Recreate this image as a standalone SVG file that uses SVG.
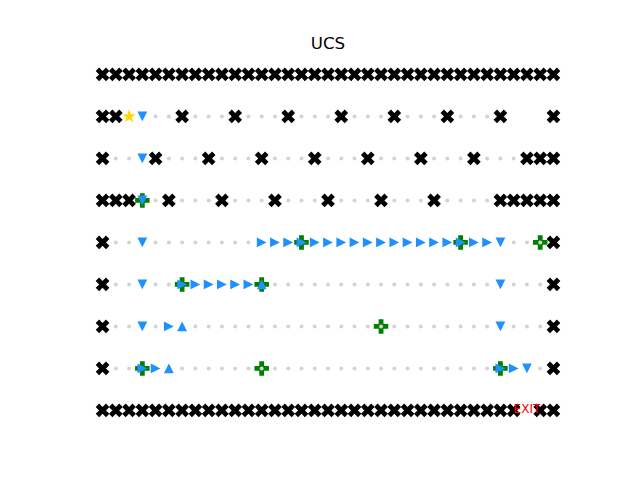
<svg xmlns="http://www.w3.org/2000/svg" xmlns:xlink="http://www.w3.org/1999/xlink" width="640" height="480" viewBox="0 0 640 480">
<style>
.title{font-family:"DejaVu Sans",sans-serif;font-size:16.67px;fill:#000;text-anchor:middle}
.exit{font-family:"DejaVu Sans",sans-serif;font-size:12px;fill:#ff0000;text-anchor:middle}
</style>
<defs>
<path id="wx" d="M-3.42,-6.85L0,-3.42L3.42,-6.85L6.85,-3.42L3.42,0L6.85,3.42L3.42,6.85L0,3.42L-3.42,6.85L-6.85,3.42L-3.42,0L-6.85,-3.42Z" fill="#000000"/>
<circle id="dt" r="2" fill="#d3d3d3"/>
<path id="pl" d="M-2.42,-7.25H2.42V-2.42H7.25V2.42H2.42V7.25H-2.42V2.42H-7.25V-2.42H-2.42Z" fill="#008000"/>
<path id="td" d="M-4.9,-4.9H4.9L0,4.9Z" fill="#1e90ff"/>
<path id="tr" d="M-4.9,-4.9L4.9,0L-4.9,4.9Z" fill="#1e90ff"/>
<path id="tu" d="M0,-4.9L4.9,4.9H-4.9Z" fill="#1e90ff"/>
<path id="st" d="M0,-7.2L1.62,-2.23L6.85,-2.23L2.62,0.85L4.23,5.83L0,2.75L-4.23,5.83L-2.62,0.85L-6.85,-2.23L-1.62,-2.23Z" fill="#ffd700"/>
<g id="dotrow">
<use href="#dt" x="115.81"/><use href="#dt" x="129.07"/><use href="#dt" x="142.34"/><use href="#dt" x="155.60"/><use href="#dt" x="168.86"/><use href="#dt" x="182.12"/><use href="#dt" x="195.38"/><use href="#dt" x="208.65"/><use href="#dt" x="221.91"/><use href="#dt" x="235.17"/><use href="#dt" x="248.43"/><use href="#dt" x="261.69"/><use href="#dt" x="274.96"/><use href="#dt" x="288.22"/><use href="#dt" x="301.48"/><use href="#dt" x="314.74"/><use href="#dt" x="328.00"/><use href="#dt" x="341.27"/><use href="#dt" x="354.53"/><use href="#dt" x="367.79"/><use href="#dt" x="381.05"/><use href="#dt" x="394.31"/><use href="#dt" x="407.58"/><use href="#dt" x="420.84"/><use href="#dt" x="434.10"/><use href="#dt" x="447.36"/><use href="#dt" x="460.62"/><use href="#dt" x="473.89"/><use href="#dt" x="487.15"/><use href="#dt" x="500.41"/><use href="#dt" x="513.67"/><use href="#dt" x="526.93"/><use href="#dt" x="540.20"/>
</g>
</defs>
<rect width="640" height="480" fill="#ffffff"/>
<text class="title" x="328" y="49">UCS</text>
<g id="walls">
<g transform="translate(0,74.4)">
<use href="#wx" x="102.55"/><use href="#wx" x="115.81"/><use href="#wx" x="129.07"/><use href="#wx" x="142.34"/><use href="#wx" x="155.60"/><use href="#wx" x="168.86"/><use href="#wx" x="182.12"/><use href="#wx" x="195.38"/><use href="#wx" x="208.65"/><use href="#wx" x="221.91"/><use href="#wx" x="235.17"/><use href="#wx" x="248.43"/><use href="#wx" x="261.69"/><use href="#wx" x="274.96"/><use href="#wx" x="288.22"/><use href="#wx" x="301.48"/><use href="#wx" x="314.74"/><use href="#wx" x="328.00"/><use href="#wx" x="341.27"/><use href="#wx" x="354.53"/><use href="#wx" x="367.79"/><use href="#wx" x="381.05"/><use href="#wx" x="394.31"/><use href="#wx" x="407.58"/><use href="#wx" x="420.84"/><use href="#wx" x="434.10"/><use href="#wx" x="447.36"/><use href="#wx" x="460.62"/><use href="#wx" x="473.89"/><use href="#wx" x="487.15"/><use href="#wx" x="500.41"/><use href="#wx" x="513.67"/><use href="#wx" x="526.93"/><use href="#wx" x="540.20"/><use href="#wx" x="553.46"/>
</g>
<g transform="translate(0,116.4)">
<use href="#wx" x="102.55"/><use href="#wx" x="115.81"/><use href="#wx" x="182.12"/><use href="#wx" x="235.17"/><use href="#wx" x="288.22"/><use href="#wx" x="341.27"/><use href="#wx" x="394.31"/><use href="#wx" x="447.36"/><use href="#wx" x="500.41"/><use href="#wx" x="553.46"/>
</g>
<g transform="translate(0,158.4)">
<use href="#wx" x="102.55"/><use href="#wx" x="155.60"/><use href="#wx" x="208.65"/><use href="#wx" x="261.69"/><use href="#wx" x="314.74"/><use href="#wx" x="367.79"/><use href="#wx" x="420.84"/><use href="#wx" x="473.89"/><use href="#wx" x="526.93"/><use href="#wx" x="540.20"/><use href="#wx" x="553.46"/>
</g>
<g transform="translate(0,200.4)">
<use href="#wx" x="102.55"/><use href="#wx" x="115.81"/><use href="#wx" x="129.07"/><use href="#wx" x="168.86"/><use href="#wx" x="221.91"/><use href="#wx" x="274.96"/><use href="#wx" x="328.00"/><use href="#wx" x="381.05"/><use href="#wx" x="434.10"/><use href="#wx" x="500.41"/><use href="#wx" x="513.67"/><use href="#wx" x="526.93"/><use href="#wx" x="540.20"/><use href="#wx" x="553.46"/>
</g>
<use href="#wx" x="102.55" y="242.4"/><use href="#wx" x="553.46" y="242.4"/>
<use href="#wx" x="102.55" y="284.4"/><use href="#wx" x="553.46" y="284.4"/>
<use href="#wx" x="102.55" y="326.4"/><use href="#wx" x="553.46" y="326.4"/>
<use href="#wx" x="102.55" y="368.4"/><use href="#wx" x="553.46" y="368.4"/>
<g transform="translate(0,410.4)">
<use href="#wx" x="102.55"/><use href="#wx" x="115.81"/><use href="#wx" x="129.07"/><use href="#wx" x="142.34"/><use href="#wx" x="155.60"/><use href="#wx" x="168.86"/><use href="#wx" x="182.12"/><use href="#wx" x="195.38"/><use href="#wx" x="208.65"/><use href="#wx" x="221.91"/><use href="#wx" x="235.17"/><use href="#wx" x="248.43"/><use href="#wx" x="261.69"/><use href="#wx" x="274.96"/><use href="#wx" x="288.22"/><use href="#wx" x="301.48"/><use href="#wx" x="314.74"/><use href="#wx" x="328.00"/><use href="#wx" x="341.27"/><use href="#wx" x="354.53"/><use href="#wx" x="367.79"/><use href="#wx" x="381.05"/><use href="#wx" x="394.31"/><use href="#wx" x="407.58"/><use href="#wx" x="420.84"/><use href="#wx" x="434.10"/><use href="#wx" x="447.36"/><use href="#wx" x="460.62"/><use href="#wx" x="473.89"/><use href="#wx" x="487.15"/><use href="#wx" x="500.41"/><use href="#wx" x="513.67"/><use href="#wx" x="540.20"/><use href="#wx" x="553.46"/>
</g>
</g>
<g id="pluses">
<use href="#pl" x="142.34" y="200.4"/>
<use href="#pl" x="301.48" y="242.4"/><use href="#pl" x="460.62" y="242.4"/><use href="#pl" x="540.20" y="242.4"/>
<use href="#pl" x="182.12" y="284.4"/><use href="#pl" x="261.69" y="284.4"/>
<use href="#pl" x="381.05" y="326.4"/>
<use href="#pl" x="142.34" y="368.4"/><use href="#pl" x="261.69" y="368.4"/><use href="#pl" x="500.41" y="368.4"/>
</g>
<g id="explored">
<g transform="translate(0,116.4)">
<use href="#dt" x="129.07"/><use href="#dt" x="142.34"/><use href="#dt" x="155.60"/><use href="#dt" x="168.86"/><use href="#dt" x="195.38"/><use href="#dt" x="208.65"/><use href="#dt" x="221.91"/><use href="#dt" x="248.43"/><use href="#dt" x="261.69"/><use href="#dt" x="274.96"/><use href="#dt" x="301.48"/><use href="#dt" x="314.74"/><use href="#dt" x="328.00"/><use href="#dt" x="354.53"/><use href="#dt" x="367.79"/><use href="#dt" x="381.05"/><use href="#dt" x="407.58"/><use href="#dt" x="420.84"/><use href="#dt" x="434.10"/><use href="#dt" x="460.62"/><use href="#dt" x="473.89"/><use href="#dt" x="487.15"/>
</g>
<g transform="translate(0,158.4)">
<use href="#dt" x="115.81"/><use href="#dt" x="129.07"/><use href="#dt" x="142.34"/><use href="#dt" x="168.86"/><use href="#dt" x="182.12"/><use href="#dt" x="195.38"/><use href="#dt" x="221.91"/><use href="#dt" x="235.17"/><use href="#dt" x="248.43"/><use href="#dt" x="274.96"/><use href="#dt" x="288.22"/><use href="#dt" x="301.48"/><use href="#dt" x="328.00"/><use href="#dt" x="341.27"/><use href="#dt" x="354.53"/><use href="#dt" x="381.05"/><use href="#dt" x="394.31"/><use href="#dt" x="407.58"/><use href="#dt" x="434.10"/><use href="#dt" x="447.36"/><use href="#dt" x="460.62"/><use href="#dt" x="487.15"/><use href="#dt" x="500.41"/><use href="#dt" x="513.67"/>
</g>
<g transform="translate(0,200.4)">
<use href="#dt" x="142.34"/><use href="#dt" x="155.60"/><use href="#dt" x="182.12"/><use href="#dt" x="195.38"/><use href="#dt" x="208.65"/><use href="#dt" x="235.17"/><use href="#dt" x="248.43"/><use href="#dt" x="261.69"/><use href="#dt" x="288.22"/><use href="#dt" x="301.48"/><use href="#dt" x="314.74"/><use href="#dt" x="341.27"/><use href="#dt" x="354.53"/><use href="#dt" x="367.79"/><use href="#dt" x="394.31"/><use href="#dt" x="407.58"/><use href="#dt" x="420.84"/><use href="#dt" x="447.36"/><use href="#dt" x="460.62"/><use href="#dt" x="473.89"/><use href="#dt" x="487.15"/>
</g>
<use href="#dotrow" y="242.4"/>
<use href="#dotrow" y="284.4"/>
<use href="#dotrow" y="326.4"/>
<use href="#dotrow" y="368.4"/>
</g>
<g id="path">
<use href="#td" x="142.34" y="116.4"/>
<use href="#td" x="142.34" y="158.4"/>
<use href="#td" x="142.34" y="200.4"/>
<g transform="translate(0,242.4)">
<use href="#td" x="142.34"/>
<use href="#tr" x="261.69"/><use href="#tr" x="274.96"/><use href="#tr" x="288.22"/><use href="#tr" x="301.48"/><use href="#tr" x="314.74"/><use href="#tr" x="328.00"/><use href="#tr" x="341.27"/><use href="#tr" x="354.53"/><use href="#tr" x="367.79"/><use href="#tr" x="381.05"/><use href="#tr" x="394.31"/><use href="#tr" x="407.58"/><use href="#tr" x="420.84"/><use href="#tr" x="434.10"/><use href="#tr" x="447.36"/><use href="#tr" x="460.62"/><use href="#tr" x="473.89"/><use href="#tr" x="487.15"/>
<use href="#td" x="500.41"/>
</g>
<g transform="translate(0,284.4)">
<use href="#td" x="142.34"/>
<use href="#tr" x="182.12"/><use href="#tr" x="195.38"/><use href="#tr" x="208.65"/><use href="#tr" x="221.91"/><use href="#tr" x="235.17"/><use href="#tr" x="248.43"/>
<use href="#tu" x="261.69"/>
<use href="#td" x="500.41"/>
</g>
<g transform="translate(0,326.4)">
<use href="#td" x="142.34"/><use href="#tr" x="168.86"/><use href="#tu" x="182.12"/><use href="#td" x="500.41"/>
</g>
<g transform="translate(0,368.4)">
<use href="#tr" x="142.34"/><use href="#tr" x="155.60"/><use href="#tu" x="168.86"/><use href="#tr" x="500.41"/><use href="#tr" x="513.67"/><use href="#td" x="526.93"/>
</g>
</g>
<g id="start"><use href="#st" x="129.07" y="116.4"/></g>
<g id="exit"><text class="exit" x="526.93" y="413">EXIT</text></g>
</svg>
